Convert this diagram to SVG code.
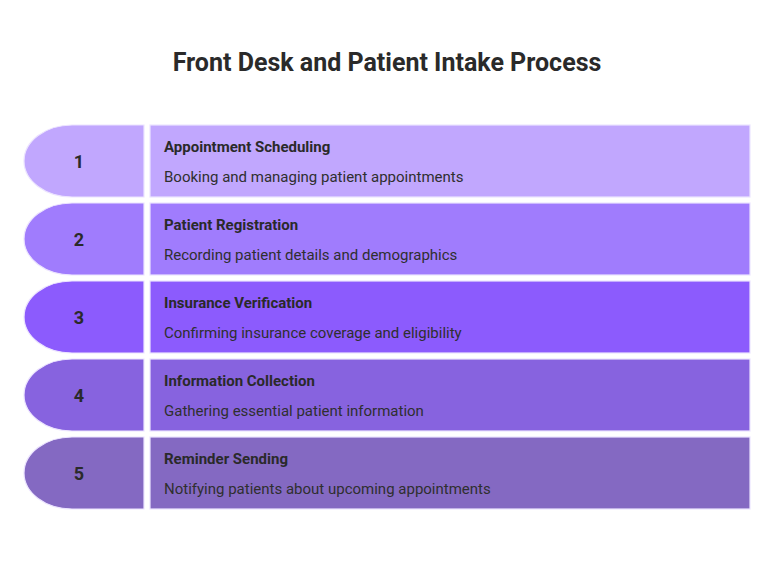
<svg xmlns="http://www.w3.org/2000/svg" width="774" height="588" viewBox="0 0 774 588">
<style>
.title{font-family:Roboto,"Liberation Sans",sans-serif;font-weight:700;font-size:25px;fill:#2a2a2a}
.num{font-family:Roboto,"Liberation Sans",sans-serif;font-weight:700;font-size:18px;fill:#2a2a2a}
.head{font-family:Roboto,"Liberation Sans",sans-serif;font-weight:700;font-size:15px;fill:#2a2a2a}
.desc{font-family:Roboto,"Liberation Sans",sans-serif;font-size:15px;fill:#2f2f2f}
.sh{stroke:#ece4ff;stroke-width:1.2}
</style>
<rect width="774" height="588" fill="#ffffff"/>
<text class="title" x="387" y="71" text-anchor="middle">Front Desk and Patient Intake Process</text>
<g id="step1">
<path class="sh" fill="#c1a7fe" d="M144 125 H72 A48 36 0 0 0 72 197 H144 Z"/>
<rect class="sh" x="150" y="125" width="600" height="72" fill="#c1a7fe"/>
<text class="num" x="79" y="168" text-anchor="middle">1</text>
<text class="head" x="164" y="152">Appointment Scheduling</text>
<text class="desc" x="164" y="182">Booking and managing patient appointments</text>
</g>
<g id="step2">
<path class="sh" fill="#a07cfd" d="M144 203 H72 A48 36 0 0 0 72 275 H144 Z"/>
<rect class="sh" x="150" y="203" width="600" height="72" fill="#a07cfd"/>
<text class="num" x="79" y="246" text-anchor="middle">2</text>
<text class="head" x="164" y="230">Patient Registration</text>
<text class="desc" x="164" y="260">Recording patient details and demographics</text>
</g>
<g id="step3">
<path class="sh" fill="#8c5bfd" d="M144 281 H72 A48 36 0 0 0 72 353 H144 Z"/>
<rect class="sh" x="150" y="281" width="600" height="72" fill="#8c5bfd"/>
<text class="num" x="79" y="324" text-anchor="middle">3</text>
<text class="head" x="164" y="308">Insurance Verification</text>
<text class="desc" x="164" y="338">Confirming insurance coverage and eligibility</text>
</g>
<g id="step4">
<path class="sh" fill="#8763df" d="M144 359 H72 A48 36 0 0 0 72 431 H144 Z"/>
<rect class="sh" x="150" y="359" width="600" height="72" fill="#8763df"/>
<text class="num" x="79" y="402" text-anchor="middle">4</text>
<text class="head" x="164" y="386">Information Collection</text>
<text class="desc" x="164" y="416">Gathering essential patient information</text>
</g>
<g id="step5">
<path class="sh" fill="#8469c2" d="M144 437 H72 A48 36 0 0 0 72 509 H144 Z"/>
<rect class="sh" x="150" y="437" width="600" height="72" fill="#8469c2"/>
<text class="num" x="79" y="480" text-anchor="middle">5</text>
<text class="head" x="164" y="464">Reminder Sending</text>
<text class="desc" x="164" y="494">Notifying patients about upcoming appointments</text>
</g>
<g id="connectors"></g>
</svg>
